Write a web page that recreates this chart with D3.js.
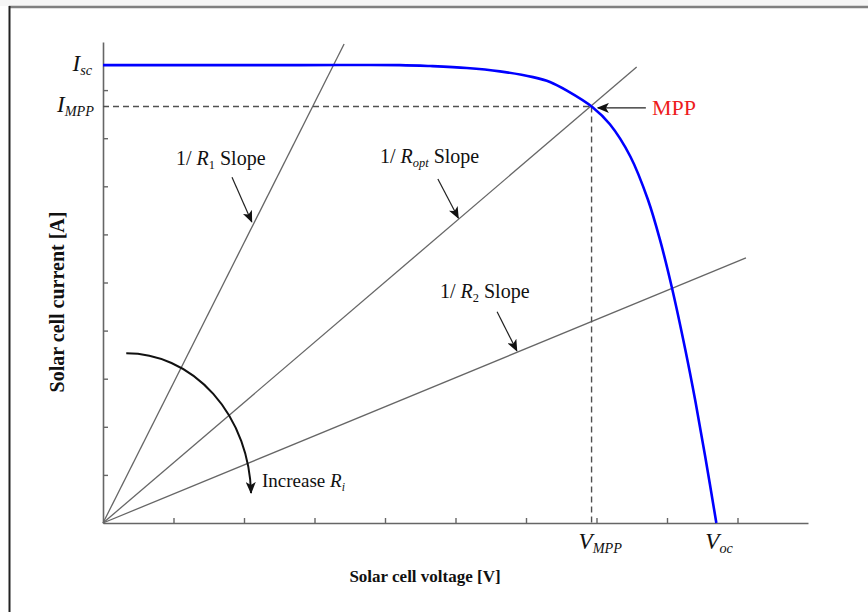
<!DOCTYPE html>
<html>
<head>
<meta charset="utf-8">
<script src="https://cdn.jsdelivr.net/npm/d3@7"></script>
<style>
  html, body { margin: 0; padding: 0; background: #fff; }
  svg { display: block; }
  text { font-family: "Liberation Serif", "Times New Roman", serif; }
</style>
</head>
<body>
<svg id="chart" width="868" height="612"></svg>
<script>
// ---- data ----
const curveV = [0, 2.79, 4.21, 4.64, 5.16, 5.63, 6.10, 6.34, 6.58, 6.94, 7.19, 7.48, 7.73, 7.90, 8.07, 8.26, 8.40, 8.54, 8.70];
const curveI = [9.52, 9.52, 9.52, 9.50, 9.46, 9.39, 9.27, 9.17, 8.99, 8.65, 8.29, 7.62, 6.72, 5.89, 4.89, 3.60, 2.55, 1.40, 0];
const loadNames = ["1", "opt", "2"];
const loadEndV = [3.42, 7.57, 9.12];
const loadEndI = [9.96, 9.48, 5.51];
const mppV = 6.93, mppI = 8.66;
const iscI = 9.52, vocV = 8.70;
const xTicks = [1, 2, 3, 4, 5, 6, 7, 8, 9];
const yTicks = [1, 2, 3, 4, 5, 6, 7, 8, 9];

// ---- layout ----
const svg = d3.select("#chart");
const x = d3.scaleLinear().domain([0, 10]).range([103, 808]);
const y = d3.scaleLinear().domain([0, 10]).range([523, 42]);

const defs = svg.append("defs");
defs.append("marker")
  .attr("id", "ah").attr("viewBox", "0 0 12 10")
  .attr("refX", 11).attr("refY", 5)
  .attr("markerWidth", 12).attr("markerHeight", 10)
  .attr("markerUnits", "userSpaceOnUse")
  .attr("orient", "auto")
  .append("path").attr("d", "M0,0 L12,5 L0,10 L3,5 Z").attr("fill", "#111");

// frame
svg.append("rect").attr("x", 0).attr("y", 0).attr("width", 868).attr("height", 6).attr("fill", "#f6f6f6");
svg.append("line").attr("x1", 9).attr("x2", 868).attr("y1", 7).attr("y2", 7)
  .attr("stroke", "#808080").attr("stroke-width", 2.5);
svg.append("line").attr("x1", 9.5).attr("x2", 9.5).attr("y1", 6).attr("y2", 612)
  .attr("stroke", "#222").attr("stroke-width", 2);

// axes
const gx = svg.append("g").attr("transform", `translate(0,${y(0)})`)
  .call(d3.axisBottom(x).tickValues(xTicks).tickSizeInner(-5).tickSizeOuter(0).tickFormat(""));
const gy = svg.append("g").attr("transform", `translate(${x(0)},0)`)
  .call(d3.axisLeft(y).tickValues(yTicks).tickSizeInner(-5).tickSizeOuter(0).tickFormat(""));
[gx, gy].forEach(g => {
  g.selectAll("path.domain").attr("stroke", "#666").attr("stroke-width", 1.6);
  g.selectAll(".tick line").attr("stroke", "#666").attr("stroke-width", 1.4);
});

// load lines
loadNames.forEach((n, i) => {
  svg.append("line")
    .attr("x1", x(0)).attr("y1", y(0))
    .attr("x2", x(loadEndV[i])).attr("y2", y(loadEndI[i]))
    .attr("stroke", "#666").attr("stroke-width", 1.3);
});

// dashed MPP lines
svg.append("line").attr("x1", x(0)).attr("y1", y(mppI)).attr("x2", x(mppV)).attr("y2", y(mppI))
  .attr("stroke", "#505050").attr("stroke-width", 1.4).attr("stroke-dasharray", "6,4");
svg.append("line").attr("x1", x(mppV)).attr("y1", y(mppI)).attr("x2", x(mppV)).attr("y2", y(0))
  .attr("stroke", "#505050").attr("stroke-width", 1.4).attr("stroke-dasharray", "6,4");

// I-V curve
const pts = curveV.map((v, i) => [v, curveI[i]]);
svg.append("path").datum(pts)
  .attr("d", d3.line().x(d => x(d[0])).y(d => y(d[1])).curve(d3.curveCatmullRom.alpha(0.5)))
  .attr("fill", "none").attr("stroke", "#0000ff").attr("stroke-width", 2.6);

// arrows
function arrow(v1, i1, v2, i2) {
  svg.append("line").attr("x1", x(v1)).attr("y1", y(i1)).attr("x2", x(v2)).attr("y2", y(i2))
    .attr("stroke", "#222").attr("stroke-width", 1.2).attr("marker-end", "url(#ah)");
}
arrow(1.83, 7.19, 2.11, 6.26);
arrow(4.75, 7.15, 5.04, 6.34);
arrow(5.59, 4.39, 5.87, 3.58);
arrow(7.70, 8.63, 7.02, 8.63);

// increase arc (quarter ellipse)
const cx = x(0.33), cy = y(0.54), rx = x(0.33 + 1.77) - x(0.33), ry = y(0.54) - y(0.54 + 2.99);
svg.append("path")
  .attr("d", `M${cx},${cy - ry} A${rx},${ry} 0 0 1 ${cx + rx},${cy - 4}`)
  .attr("fill", "none").attr("stroke", "#111").attr("stroke-width", 2)
  .attr("marker-end", "url(#ah)");

// label helper: parts [text, italic, sub]
function label(px, py, parts, size, opts = {}) {
  const t = svg.append("text").attr("x", px).attr("y", py)
    .attr("font-size", size).attr("fill", opts.fill || "#111")
    .attr("text-anchor", opts.anchor || "start");
  parts.forEach(p => {
    const ts = t.append("tspan").text(p.t);
    if (p.i) ts.attr("font-style", "italic");
    if (p.sub) ts.attr("font-size", size * 0.62).attr("dy", 4);
    if (p.up) ts.attr("dy", -4);
  });
  return t;
}

label(176, 165, [{t: "1/ "}, {t: "R", i: true}, {t: "1", sub: true}, {t: " Slope", up: true}], 20);
label(380, 163, [{t: "1/ "}, {t: "R", i: true}, {t: "opt", i: true, sub: true}, {t: " Slope", up: true}], 20);
label(440, 298, [{t: "1/ "}, {t: "R", i: true}, {t: "2", sub: true}, {t: " Slope", up: true}], 20);
label(262, 487, [{t: "Increase  "}, {t: "R", i: true}, {t: "i", i: true, sub: true}], 19);
label(652, 115, [{t: "MPP"}], 22, {fill: "#ee1c1c"});

// axis-value labels
label(92, y(iscI) + 6, [{t: "I", i: true}, {t: "sc", i: true, sub: true}], 23, {anchor: "end"});
label(94, y(mppI) + 6, [{t: "I", i: true}, {t: "MPP", i: true, sub: true}], 23, {anchor: "end"});
label(x(mppV) - 13, 549, [{t: "V", i: true}, {t: "MPP", i: true, sub: true}], 23);
label(x(vocV) - 11, 549, [{t: "V", i: true}, {t: "oc", i: true, sub: true}], 23);

// axis titles
svg.append("text").attr("x", 425).attr("y", 582).attr("text-anchor", "middle")
  .attr("font-size", 17).attr("font-weight", "bold").attr("fill", "#111")
  .text("Solar cell voltage [V]");
svg.append("text").attr("transform", "translate(64,302) rotate(-90)").attr("text-anchor", "middle")
  .attr("font-size", 20).attr("font-weight", "bold").attr("fill", "#111")
  .text("Solar cell current [A]");
</script>
</body>
</html>
